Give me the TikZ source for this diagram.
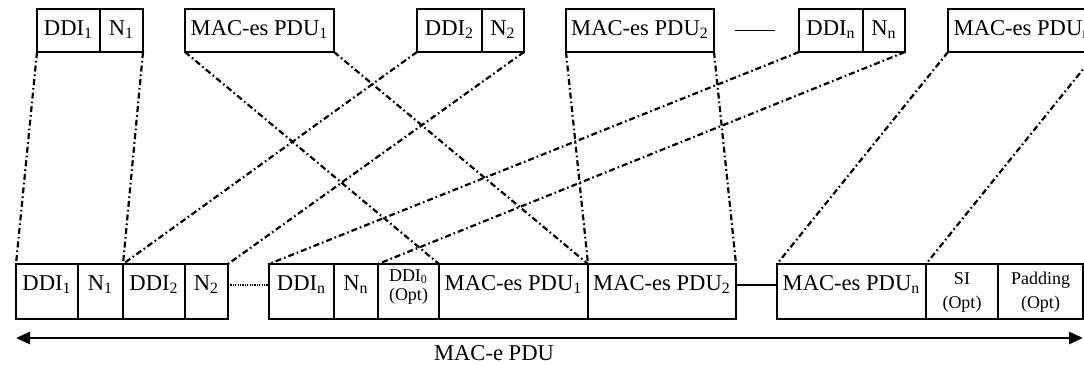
\documentclass[tikz,border=0pt]{standalone}
\usepackage{fontspec}
\setmainfont{Liberation Serif}
\usepackage{tikz}
\usetikzlibrary{arrows.meta,positioning}
\newcommand{\stk}[1]{\begin{tabular}[t]{@{}c@{}}#1\end{tabular}}

\begin{document}
\begin{tikzpicture}[
  x=0.5pt,y=-0.5pt,node distance=0pt,
  font=\fontsize{11.3}{13}\selectfont,
  fld/.style={draw,line width=0.6pt,inner sep=0pt,outer sep=0pt,minimum height=21.5pt,text height=8pt,text depth=3pt},
  low/.style={fld,minimum height=27.5pt,text height=13pt,text depth=14.5pt},
  opt/.style={low,font=\fontsize{9}{9.5}\selectfont,text height=8.5pt,text depth=19pt},
  lnk/.style={line width=1.1pt,dash pattern=on 3pt off 1.5pt on 0.8pt off 1.5pt},
  gap/.style={line width=0.6pt}
]
\useasboundingbox (0,0) rectangle (1084,365);
% upper row
\node[fld,minimum width=31.5pt,anchor=north west] (tddi1) at (37,9) {DDI\textsubscript{1}};
\node[fld,minimum width=21.5pt,right=of tddi1] (tn1) {N\textsubscript{1}};
\node[fld,minimum width=74.5pt,right=21pt of tn1] (tpdu1) {MAC-es PDU\textsubscript{1}};
\node[fld,minimum width=32.5pt,right=41.5pt of tpdu1] (tddi2) {DDI\textsubscript{2}};
\node[fld,minimum width=21pt,right=of tddi2] (tn2) {N\textsubscript{2}};
\node[fld,minimum width=74pt,right=21pt of tn2] (tpdu2) {MAC-es PDU\textsubscript{2}};
\node[fld,minimum width=32pt,right=42.5pt of tpdu2] (tddin) {DDI\textsubscript{n}};
\node[fld,minimum width=21pt,right=of tddin] (tnn) {N\textsubscript{n}};
\node[fld,minimum width=74.5pt,right=21.5pt of tnn] (tpdun) {MAC-es PDU\textsubscript{n}};
% lower row
\node[low,minimum width=31pt,anchor=north west] (bddi1) at (16,264) {DDI\textsubscript{1}};
\node[low,minimum width=22.5pt,right=of bddi1] (bn1) {N\textsubscript{1}};
\node[low,minimum width=31pt,right=of bn1] (bddi2) {DDI\textsubscript{2}};
\node[low,minimum width=21.5pt,right=of bddi2] (bn2) {N\textsubscript{2}};
\node[low,minimum width=32.5pt,right=20.5pt of bn2] (bddin) {DDI\textsubscript{n}};
\node[low,minimum width=22pt,right=of bddin] (bnn) {N\textsubscript{n}};
\node[opt,minimum width=30.5pt,right=of bnn] (bddi0) {\stk{DDI\textsubscript{0}\\(Opt)}};
\node[low,minimum width=74.5pt,right=of bddi0] (bpdu1) {MAC-es PDU\textsubscript{1}};
\node[low,minimum width=74pt,right=of bpdu1] (bpdu2) {MAC-es PDU\textsubscript{2}};
\node[low,minimum width=74.5pt,right=20.5pt of bpdu2] (bpdun) {MAC-es PDU\textsubscript{n}};
\node[opt,minimum width=36pt,text height=10pt,text depth=17.5pt,right=of bpdun] (bsi) {\stk{SI\\[2.5pt](Opt)}};
\node[opt,minimum width=42.5pt,text height=10pt,text depth=17.5pt,right=of bsi] (bpad) {\stk{Padding\\[2.5pt](Opt)}};
\draw[line width=1.1pt] (bnn.north east) -- (bnn.south east);
\draw[gap,shorten <=10.5pt,shorten >=12pt] (tpdu2.east) -- (tddin.west);
\draw[line width=0.9pt,dash pattern=on 0.6pt off 0.6pt] ([yshift=3.25pt]bn2.east) -- ([yshift=3.25pt]bddin.west);
\draw[gap] ([yshift=3.25pt]bpdu2.east) -- ([yshift=3.25pt]bpdun.west);
\foreach \a/\b in {tddi1.south west/bddi1.north west,tn1.south east/bn1.north east,
  tpdu1.south west/bpdu1.north west,tpdu1.south east/bpdu1.north east,
  tddi2.south west/bddi2.north west,tn2.south east/bn2.north east,
  tpdu2.south west/bpdu2.north west,tpdu2.south east/bpdu2.north east,
  tddin.south west/bddin.north west,tnn.south east/bnn.north east,
  tpdun.south west/bpdun.north west,tpdun.south east/bpdun.north east}
  \draw[lnk] (\a) -- (\b);
\draw[line width=1.4pt,{Triangle[length=7pt,width=6pt]}-{Triangle[length=7pt,width=6pt]}]
  ([yshift=-9.5pt]bddi1.south west) -- ([yshift=-9.5pt]bpad.south east);
\node[fill=white,inner sep=0pt,minimum width=96.5pt,minimum height=13pt,anchor=north] (mace) at (494,339.5) {MAC-e PDU};
\end{tikzpicture}
\end{document}
